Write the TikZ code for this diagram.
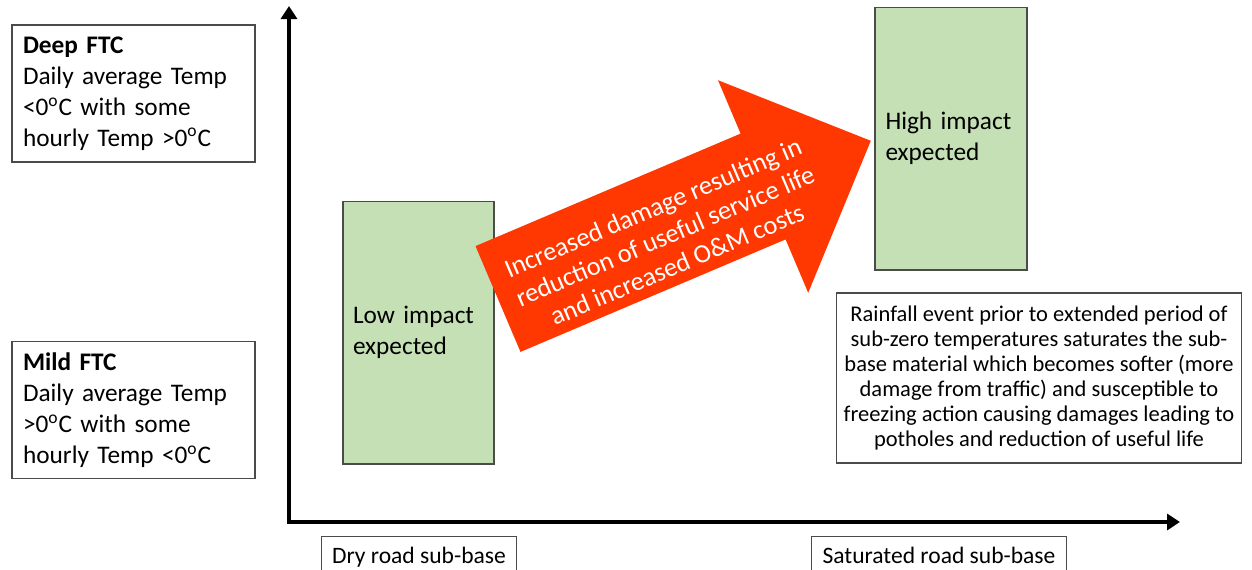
\documentclass[tikz,border=0pt]{standalone}
\usepackage{fontspec}
\setmainfont{Carlito}
\usepackage{tikz}
\usetikzlibrary{arrows.meta}
\usetikzlibrary{positioning}
\usetikzlibrary{calc}
\definecolor{impactgreen}{RGB}{197,224,180}
\definecolor{damagered}{RGB}{255,55,0}
\definecolor{frameline}{RGB}{75,75,75}
\tikzset{
  % Common styles for the chart
  axisline/.style={line width=2.4pt, line join=miter,
    {Triangle[length=0.26cm,width=0.32cm]}-{Triangle[length=0.26cm,width=0.32cm]}},
  textbox/.style={draw=frameline, line width=0.6pt, fill=white},
  bigfont/.style={font=\fontsize{14.4}{17.6}\selectfont}
}

\begin{document}
\begin{tikzpicture}[x=0.02cm, y=-0.02cm]
    % Define styles
    \tikzstyle{ftcbox} = [textbox, bigfont, align=left, text width=4.42cm, inner xsep=0.22cm, minimum width=4.86cm, minimum height=2.74cm]
    \tikzstyle{impact} = [draw=frameline, line width=0.6pt, fill=impactgreen, bigfont, align=left, text width=2.62cm, inner xsep=0.2cm, minimum height=5.26cm]
    \tikzstyle{axislabel} = [textbox, font=\fontsize{13.4}{16}\selectfont, anchor=north, text height=0.33cm, text depth=0.5cm, inner ysep=0.2cm, inner xsep=0.22cm]

    \clip (0,0) rectangle (1252,569);

    % Axes
    \coordinate (ytop) at (289,6);
    \coordinate (origin) at (289,522);
    \coordinate (xend) at (1180,522);
    \draw [axisline] (ytop) -- (origin) -- (xend);

    % Frost classes
    \node [ftcbox] (deep) at (133.5,93.5) {\textbf{Deep FTC}\\Daily average Temp\\<0\textsuperscript{o}C with some\\hourly Temp >0\textsuperscript{o}C};
    \node [ftcbox] (mild) at (133.5,410) {\textbf{Mild FTC}\\Daily average Temp\\>0\textsuperscript{o}C with some\\hourly Temp <0\textsuperscript{o}C};

    % Impact boxes
    \node [impact, minimum width=3.02cm] (low) at (418.5,332.5) {Low impact\\expected};
    \node [impact, minimum width=3.04cm] (high) at (951,138.5) {High impact\\expected};

    % Big arrow
    \fill [damagered] (475.5,246.1) -- (740.6,133.6) -- (718,80.2) -- (870.8,140.8)
        -- (808.2,292.8) -- (785.6,239.4) -- (520.5,351.9) -- cycle;
    \node [text=white, rotate=23, align=center, font=\fontsize{15}{17.5}\selectfont] (damage) at (665,236)
        {Increased damage resulting in\\reduction of useful service life\\and increased O\&M costs};

    % Explanation
    \node [textbox, align=center, minimum width=8.12cm, minimum height=3.4cm, font=\fontsize{12.8}{14.2}\selectfont] (rain) at (1039,378)
        {Rainfall event prior to extended period of\\sub-zero temperatures saturates the sub-\\base material which becomes softer (more\\damage from traffic) and susceptible to\\freezing action causing damages leading to\\potholes and reduction of useful life};

    % Axis labels
    \node [axislabel] (dry) at (419,536) {Dry road sub-base};
    \node [axislabel] (wet) at (939,536) {Saturated road sub-base};

\end{tikzpicture}
\end{document}
